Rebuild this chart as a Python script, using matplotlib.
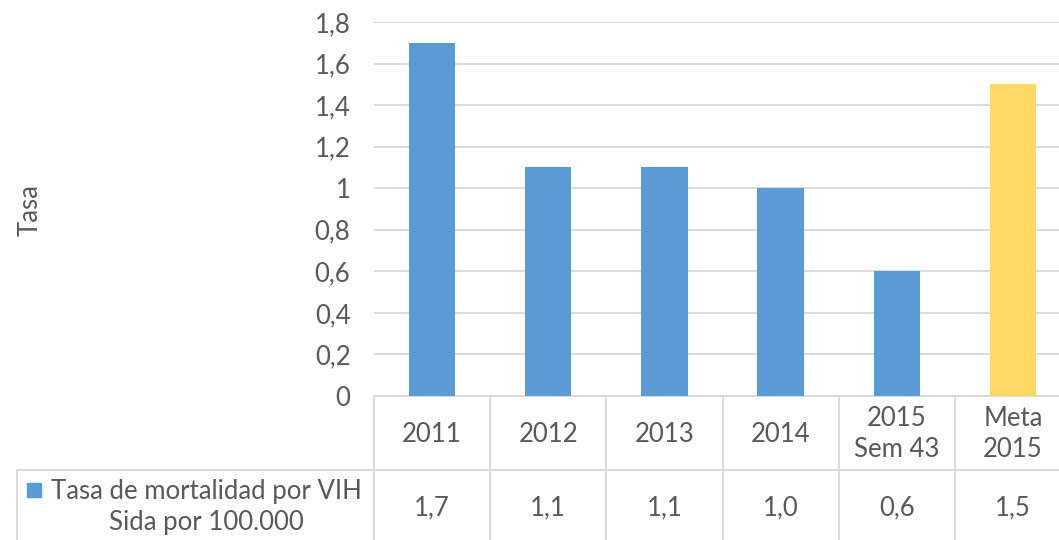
import numpy as np
import matplotlib.pyplot as plt
from matplotlib.lines import Line2D
from matplotlib.patches import Rectangle
import matplotlib.transforms as mtransforms

plt.rcParams['font.family'] = ['Lato', 'DejaVu Sans']

categories = ['2011', '2012', '2013', '2014', '2015\nSem 43', 'Meta\n2015']
values = [1.7, 1.1, 1.1, 1.0, 0.6, 1.5]
table_labels = ['1,7', '1,1', '1,1', '1,0', '0,6', '1,5']
yticks = [0, 0.2, 0.4, 0.6, 0.8, 1, 1.2, 1.4, 1.6, 1.8]
ytick_labels = ['0', '0,2', '0,4', '0,6', '0,8', '1', '1,2', '1,4', '1,6', '1,8']
series_name = 'Tasa de mortalidad por VIH\nSida por 100.000'

blue = '#5B9BD5'
yellow = '#FFD966'
grid = '#D9D9D9'
txt = '#595959'
fs = 18.5

W, H = 1059, 540
fig = plt.figure(figsize=(W / 100, H / 100), dpi=100)

def fx(px):
    return px / W

def fy(py):
    return 1 - py / H

# plot area (right side runs past the picture edge, as in the original)
x0, x1 = 374, 1071
ytop, ybot = 22, 396
ax = fig.add_axes([fx(x0), fy(ybot), fx(x1 - x0), (ybot - ytop) / H])

colors = [blue] * 5 + [yellow]
x = np.arange(len(values))
ax.bar(x, values, width=0.4, color=colors, zorder=3)

ax.set_xlim(-0.5, len(values) - 0.5)
ax.set_ylim(0, 1.8)
ax.set_yticks(yticks)
ax.set_yticklabels(ytick_labels, fontsize=fs, color=txt)
ax.yaxis.grid(True, color=grid, linewidth=1.3, zorder=0)
ax.set_xticks([])
ax.tick_params(axis='y', length=0, pad=17)
for s in ['top', 'right', 'left']:
    ax.spines[s].set_visible(False)
ax.spines['bottom'].set_color(grid)
ax.spines['bottom'].set_linewidth(1.3)

fig.text(fx(30), fy(210), 'Tasa', rotation=90, fontsize=fs, color=txt,
         ha='center', va='center')

# data table below the axis
trans = mtransforms.blended_transform_factory(ax.transData, fig.transFigure)
for k in range(len(values) + 1):
    fig.add_artist(Line2D([k - 0.5, k - 0.5], [fy(396), fy(545)], transform=trans,
                          color=grid, linewidth=1.3, clip_on=False))
fig.add_artist(Line2D([fx(17), fx(1071)], [fy(470), fy(470)], transform=fig.transFigure,
                      color=grid, linewidth=1.3))
fig.add_artist(Line2D([fx(17), fx(17)], [fy(470), fy(545)], transform=fig.transFigure,
                      color=grid, linewidth=1.3))

for i, c in enumerate(categories):
    fig.text(i, fy(434), c, transform=trans, fontsize=fs, color=txt,
             ha='center', va='center', linespacing=1.3)
for i, t in enumerate(table_labels):
    fig.text(i, fy(508), t, transform=trans, fontsize=fs, color=txt,
             ha='center', va='center')

fig.add_artist(Rectangle((fx(27), fy(497)), fx(14), 14 / H, transform=fig.transFigure,
                         color=blue))
fig.text(fx(206), fy(507), series_name, fontsize=fs, color=txt,
         ha='center', va='center', multialignment='center', linespacing=1.3)

fig.savefig('out.png', dpi=100)
